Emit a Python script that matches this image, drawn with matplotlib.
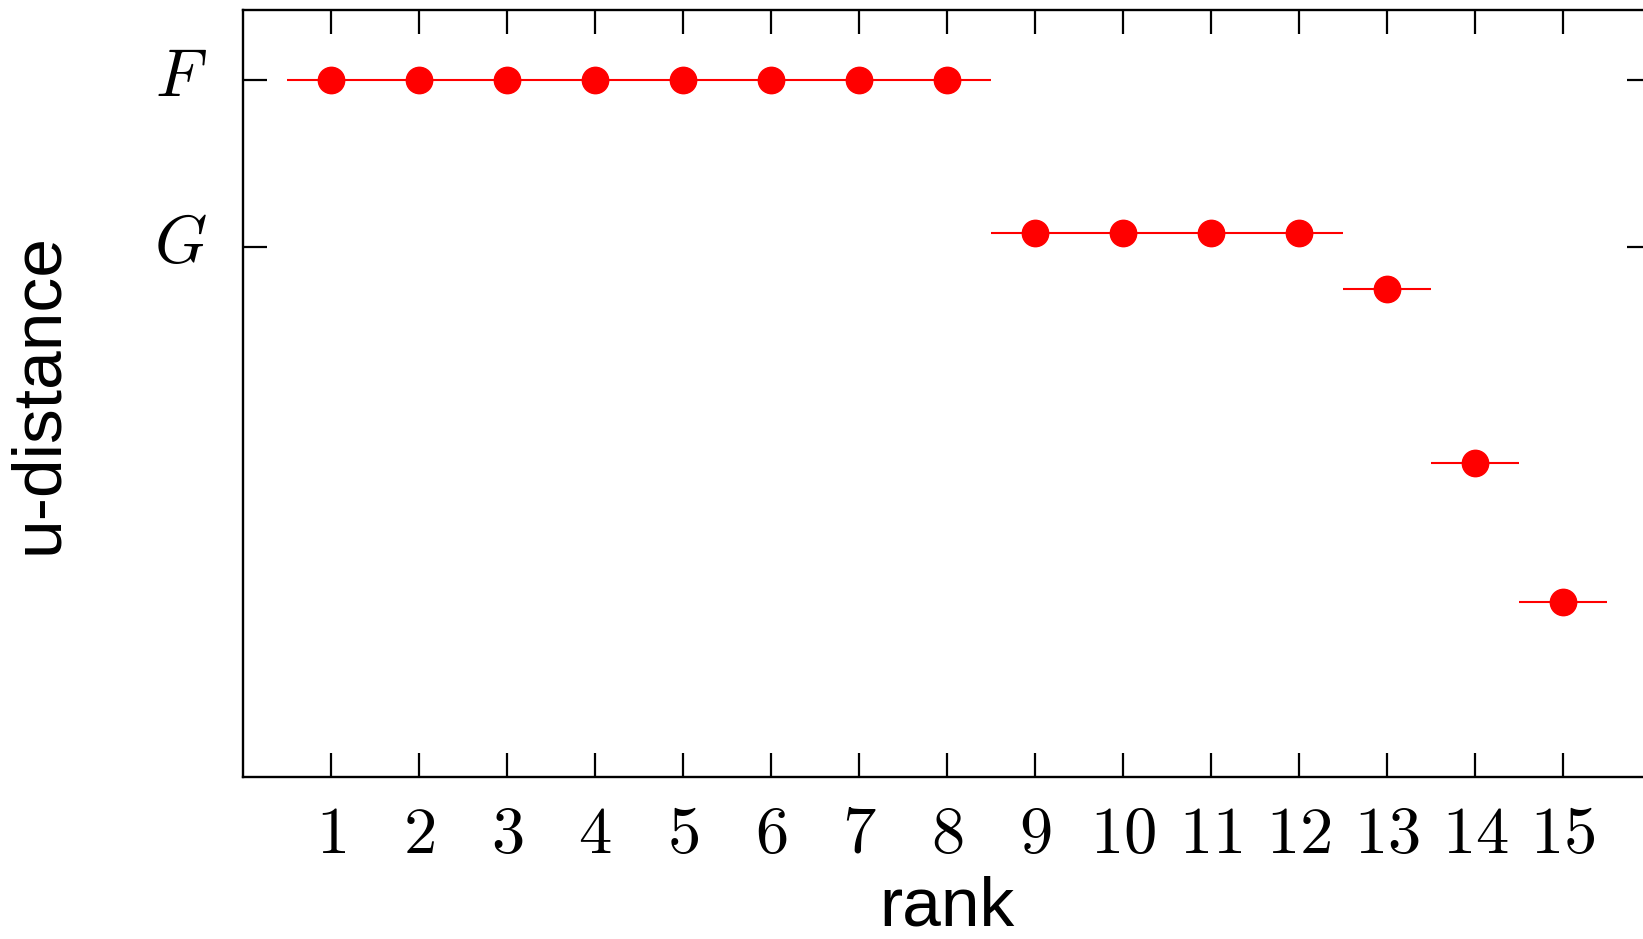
#!/usr/bin/env python3

import numpy as np
import matplotlib
matplotlib.use('Agg')
import matplotlib.pyplot as plt
import matplotlib.transforms as mtransforms

plt.rcParams['mathtext.fontset'] = 'cm'
plt.rcParams['font.family'] = ['Liberation Sans', 'DejaVu Sans']

# rank and u-distance (F = 1 on the y scale)
ranks = [1, 2, 3, 4, 5, 6, 7, 8, 9, 10, 11, 12, 13, 14, 15]
u_dist = [1.0, 1.0, 1.0, 1.0, 1.0, 1.0, 1.0, 1.0,
          0.780, 0.780, 0.780, 0.780, 0.700, 0.451, 0.251]
half_width = 0.5

ytick_pos = [1.0, 0.760]
ytick_labels = ['$F$', '$G$']
xtick_labels = ['$%d$' % r for r in ranks]

fig = plt.figure(figsize=(16.43, 9.39), dpi=100)
ax = fig.add_axes([243 / 1643, 1 - 777 / 939, 1408 / 1643, 767 / 939])

ax.errorbar(ranks, u_dist, xerr=half_width, fmt='o', color='red',
            ecolor='red', elinewidth=1.5, markersize=19, capsize=0)

ax.set_xlim(0, 16)
ax.set_ylim(0, 1.1004)
ax.set_xticks(ranks)
ax.set_xticklabels(xtick_labels, fontsize=48)
ax.set_yticks(ytick_pos)
ax.set_yticklabels(ytick_labels, fontsize=48)
ax.tick_params(direction='in', length=17, width=1.6, top=True, right=True)
ax.tick_params(axis='x', pad=20)
ax.tick_params(axis='y', pad=26)
for s in ax.spines.values():
    s.set_linewidth(1.7)
# F and G sit a few pixels higher in the reference
shift = mtransforms.ScaledTranslation(0, 6 / 72, fig.dpi_scale_trans)
for lbl in ax.get_yticklabels():
    lbl.set_transform(lbl.get_transform() + shift)

ax.set_xlabel('rank', fontsize=50, labelpad=6)
ax.set_ylabel('u-distance', fontsize=50, labelpad=60)

fig.savefig('out.png', dpi=100)
